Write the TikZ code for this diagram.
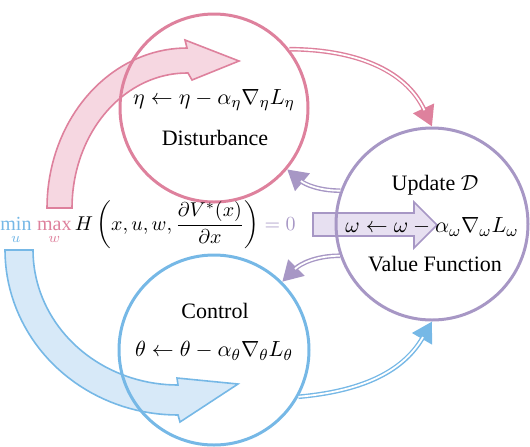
\documentclass[tikz,border=0pt]{standalone}
\usepackage{amsmath,amssymb}
\usepackage{fontspec}
\setmainfont{Liberation Serif}
\usetikzlibrary{arrows.meta}
\definecolor{distpink}{RGB}{222,129,157}
\definecolor{distfill}{RGB}{246,215,225}
\definecolor{ctrlblue}{RGB}{118,184,230}
\definecolor{ctrlfill}{RGB}{215,233,248}
\definecolor{valpurple}{RGB}{167,151,197}
\definecolor{valfill}{RGB}{227,219,238}
\tikzset{
  ring/.style={circle,line width=1.5pt,inner sep=0pt},
  sweep/.style={line width=0.8pt,line join=miter},
  link/.style={draw=white,line width=0.9pt,shorten >=9pt,
               preaction={draw=#1,line width=2.3pt,shorten >=0pt,
                          -{Triangle[length=10pt,width=11pt]}}},
  lbl/.style={font=\fontsize{11}{13}\selectfont,inner sep=0pt},
}

\begin{document}
\begin{tikzpicture}[x=0.5pt,y=-0.5pt]
  \useasboundingbox (0,0) rectangle (530,446);

  % broad arrows under the rings
  \filldraw[sweep,draw=distpink,fill=distfill]
    plot[domain=180:270,samples=40] ({187+140*cos(\x)},{208+160*sin(\x)})
    -- (185,40) -- (239,61) -- (192,80) -- (188,73)
    -- plot[domain=270:180,samples=40] ({187+115*cos(\x)},{208+135*sin(\x)}) -- cycle;
  \filldraw[sweep,draw=ctrlblue,fill=ctrlfill]
    plot[domain=180:90,samples=40] ({178+173*cos(\x)},{250+165*sin(\x)})
    -- (180,422) -- (238,384) -- (177,378) -- (178,385)
    -- plot[domain=90:180,samples=40] ({178+145*cos(\x)},{250+135*sin(\x)}) -- cycle;
  \filldraw[sweep,draw=valpurple,fill=valfill,fill opacity=0.85]
    (313,213) -- (414,213) -- (414,202) -- (437,225) -- (414,248) -- (414,236) -- (313,236) -- cycle;

  % rings
  \node[ring,draw=distpink,minimum size=94pt] (dist) at (214,108) {};
  \node[ring,draw=ctrlblue,minimum size=95pt] (ctrl) at (214,350) {};
  \node[ring,draw=valpurple,minimum size=96pt] (val) at (432,224) {};

  \node[lbl] (distrule) at (214,100) {$\eta\leftarrow\eta-\alpha_\eta\nabla_\eta L_\eta$};
  \node[lbl] (distname) at (215,138) {Disturbance};
  \node[lbl] (ctrlname) at (215,311) {Control};
  \node[lbl] (ctrlrule) at (214,351) {$\theta\leftarrow\theta-\alpha_\theta\nabla_\theta L_\theta$};
  \node[lbl] (valname) at (435,185) {Update $\mathcal{D}$};
  \node[lbl] (valrule) at (432,227) {$\omega\leftarrow\omega-\alpha_\omega\nabla_\omega L_\omega$};
  \node[lbl] (valtitle) at (435,264) {Value Function};

  \node[lbl,anchor=west,font=\fontsize{10}{12}\selectfont] (hjb) at (0,225)
    {$\displaystyle{\color{ctrlblue}\min_{u}}\;{\color{distpink}\max_{w}}\,
      H\left(x,u,w,\frac{\partial V^*(x)}{\partial x}\right)\color{valpurple}=0$};

  % links between the rings
  \draw[link=distpink] (dist.38) to[out=0,in=115] (val.90);
  \draw[link=valpurple] (val.160) to[out=180,in=-40] (dist.-40);
  \draw[link=valpurple] (val.199) to[out=180,in=45] (ctrl.45);
  \draw[link=ctrlblue] (ctrl.-29) to[out=5,in=240] (val.270);
\end{tikzpicture}
\end{document}
